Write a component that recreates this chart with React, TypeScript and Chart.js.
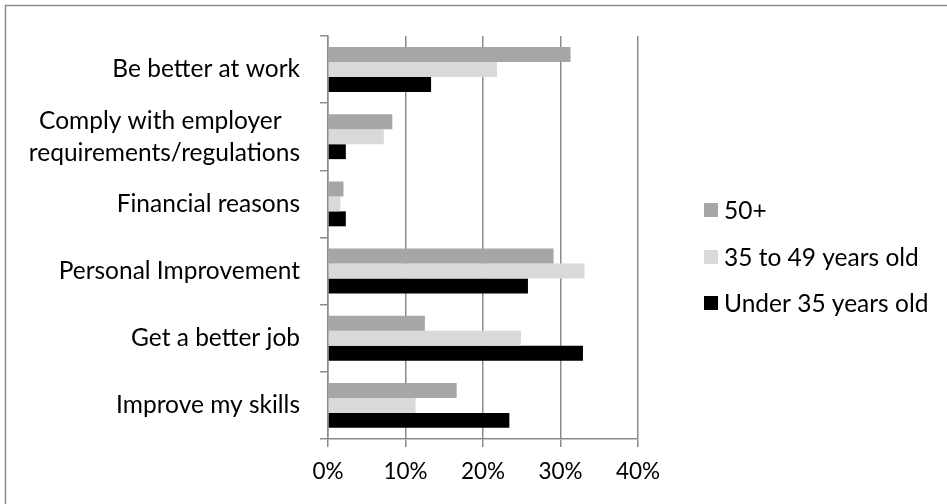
import React, { useEffect, useRef } from "react";
import { Chart, registerables } from "chart.js";

Chart.register(...registerables);

const categories: (string | string[])[] = [
  "Be better at work",
  ["Comply with employer\u00a0\u00a0\u00a0", "requirements/regulations"],
  "Financial reasons",
  "Personal Improvement",
  "Get a better job",
  "Improve my skills",
];

const seriesNames = ["50+", "35 to 49 years old", "Under 35 years old"];
const seriesColors = ["#a6a6a6", "#d9d9d9", "#000000"];

const values50Plus = [31.3, 8.3, 2.0, 29.1, 12.5, 16.6];
const values35to49 = [21.8, 7.2, 1.6, 33.1, 24.9, 11.3];
const valuesUnder35 = [13.3, 2.3, 2.3, 25.8, 32.9, 23.4];

const xMin = 0;
const xMax = 40;
const xStep = 10;

const FONT = "Lato, 'Open Sans', sans-serif";

export default function App() {
  const ref = useRef<HTMLCanvasElement | null>(null);

  useEffect(() => {
    if (!ref.current) return;
    const legendAndFrame = {
      id: "legendAndFrame",
      afterDraw(chart: any) {
        const ctx = chart.ctx;
        ctx.save();
        // outer frame (only top/left visible in the reference)
        ctx.strokeStyle = "#8c8c8c";
        ctx.lineWidth = 1.5;
        ctx.beginPath();
        ctx.moveTo(5.5, 504);
        ctx.lineTo(5.5, 5.5);
        ctx.lineTo(947, 5.5);
        ctx.stroke();
        // legend
        const centers = [210, 257, 303];
        ctx.font = `24.5px ${FONT}`;
        ctx.textBaseline = "middle";
        ctx.textAlign = "left";
        chart.data.datasets.forEach((ds: any, i: number) => {
          const cy = centers[i];
          ctx.fillStyle = ds.backgroundColor;
          ctx.fillRect(704, cy - 7, 14, 14);
          ctx.fillStyle = "#000";
          ctx.fillText(ds.label, 724, cy + 1);
        });
        ctx.restore();
      },
    };

    const chart = new Chart(ref.current, {
      type: "bar",
      data: {
        labels: categories,
        datasets: [
          { label: seriesNames[0], data: values50Plus, backgroundColor: seriesColors[0] },
          { label: seriesNames[1], data: values35to49, backgroundColor: seriesColors[1] },
          { label: seriesNames[2], data: valuesUnder35, backgroundColor: seriesColors[2] },
        ],
      },
      options: {
        indexAxis: "y",
        responsive: false,
        animation: false,
        layout: { padding: { top: 35, right: 309, bottom: 0, left: 0 } },
        datasets: { bar: { categoryPercentage: 0.668, barPercentage: 1 } },
        scales: {
          x: {
            min: xMin,
            max: xMax,
            ticks: {
              stepSize: xStep,
              callback: (v: any) => `${v}%`,
              color: "#000",
              font: { family: FONT, size: 22.5 },
              padding: 11,
              maxRotation: 0,
            },
            grid: { color: "#8c8c8c", lineWidth: 1.5, tickLength: 8, drawTicks: true },
            border: { display: true, color: "#8c8c8c", width: 1.5 },
            afterFit: (s: any) => {
              s.height = 65;
            },
          },
          y: {
            ticks: {
              color: "#000",
              font: { family: FONT, size: 24.5, lineHeight: 1.3 },
              padding: 20,
            },
            grid: { drawOnChartArea: false, drawTicks: true, tickLength: 8, color: "#8c8c8c", lineWidth: 1.5 },
            border: { display: true, color: "#8c8c8c", width: 1.5 },
            afterFit: (s: any) => {
              s.width = 328;
            },
          },
        },
        plugins: {
          legend: { display: false },
          tooltip: { enabled: false },
        },
      },
      plugins: [legendAndFrame],
    } as any);
    return () => chart.destroy();
  }, []);

  return (
    <div style={{ position: "fixed", left: 0, top: 0, width: 947, height: 504, background: "#fff" }}>
      <canvas ref={ref} width={947} height={504} style={{ display: "block" }} />
    </div>
  );
}
